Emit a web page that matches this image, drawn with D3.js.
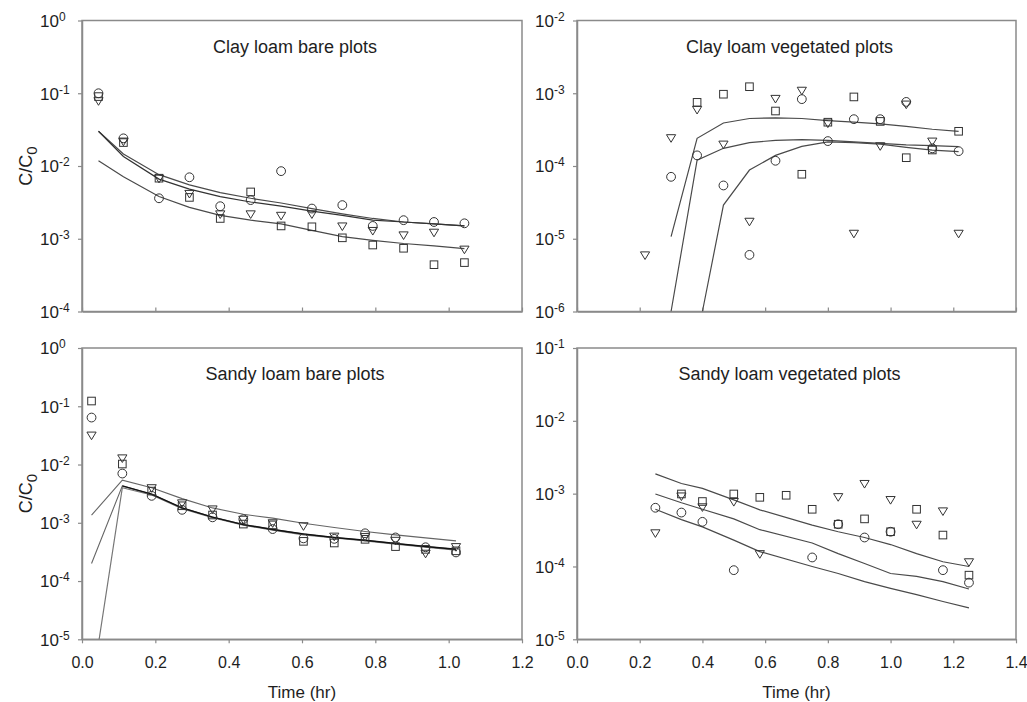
<!DOCTYPE html>
<html>
<head>
<meta charset="utf-8">
<script src="https://cdn.jsdelivr.net/npm/d3@7"></script>
<style>
  body { margin: 0; background: #fff; }
  svg { display: block; font-family: "Liberation Sans", Arial, sans-serif; }
</style>
</head>
<body>
<svg id="chart" width="1027" height="702"></svg>
<script>
// ---------------- DATA ----------------
// Clay loam bare plots
const clayBareTime = [0.045, 0.113, 0.21, 0.293, 0.377, 0.46, 0.543, 0.627, 0.71, 0.793, 0.877, 0.96, 1.043];
const clayBareCircle = [0.1, 0.024, 0.0036, 0.007, 0.0028, 0.0034, 0.0085, 0.0026, 0.0029, 0.0015, 0.0018, 0.0017, 0.00163];
const clayBareSquare = [0.09, 0.021, 0.0068, 0.0037, 0.0019, 0.0044, 0.0015, 0.00146, 0.00103, 0.00082, 0.00074, 0.00044, 0.00047];
const clayBareTriangle = [0.079, 0.022, 0.0068, 0.0042, 0.0022, 0.0022, 0.0021, 0.0022, 0.0015, 0.0013, 0.00113, 0.00123, 0.00072];
const clayBareLine1 = [0.030, 0.0146, 0.0076, 0.0055, 0.0043, 0.0036, 0.0031, 0.0026, 0.0022, 0.0019, 0.0017, 0.0016, 0.0015];
const clayBareLine2 = [0.030, 0.0135, 0.0066, 0.0048, 0.0038, 0.0032, 0.0028, 0.0024, 0.0021, 0.0018, 0.0017, 0.0016, 0.0015];
const clayBareLine3 = [0.0118, 0.0071, 0.0038, 0.0027, 0.0021, 0.0018, 0.0016, 0.0013, 0.00107, 0.00095, 0.00086, 0.0008, 0.00073];

// Clay loam vegetated plots
const clayVegTime = [0.217, 0.30, 0.383, 0.467, 0.55, 0.633, 0.717, 0.80, 0.883, 0.967, 1.05, 1.133, 1.217];
const clayVegCircle = [null, 7.1e-5, 1.4e-4, 5.4e-5, 6e-6, 1.18e-4, 8.3e-4, 2.2e-4, 4.4e-4, 4.4e-4, 7.6e-4, 1.75e-4, 1.6e-4];
const clayVegSquare = [null, null, 7.5e-4, 9.7e-4, 1.23e-3, 5.7e-4, 7.7e-5, 4.0e-4, 8.9e-4, 4.1e-4, 1.3e-4, 1.66e-4, 3.0e-4];
const clayVegTriangle = [6e-6, 2.45e-4, 6e-4, 2e-4, 1.74e-5, 8.5e-4, 1.1e-3, 3.9e-4, 1.19e-5, 1.9e-4, 7.1e-4, 2.2e-4, 1.19e-5];
const clayVegLine1Time = [0.30, 0.383, 0.467, 0.55, 0.633, 0.717, 0.80, 0.883, 0.967, 1.05, 1.133, 1.217];
const clayVegLine1 = [1.07e-5, 2.4e-4, 3.9e-4, 4.5e-4, 4.6e-4, 4.5e-4, 4.2e-4, 4.0e-4, 3.8e-4, 3.5e-4, 3.2e-4, 3.0e-4];
const clayVegLine2Time = [0.30, 0.383, 0.467, 0.55, 0.633, 0.717, 0.80, 0.883, 0.967, 1.05, 1.133, 1.217];
const clayVegLine2 = [1e-6, 1.2e-4, 1.75e-4, 2.1e-4, 2.25e-4, 2.3e-4, 2.25e-4, 2.15e-4, 2.05e-4, 1.95e-4, 1.9e-4, 1.85e-4];
const clayVegLine3Time = [0.40, 0.467, 0.55, 0.633, 0.717, 0.80, 0.883, 0.967, 1.05, 1.133, 1.217];
const clayVegLine3 = [1e-6, 2.9e-5, 8.8e-5, 1.4e-4, 1.86e-4, 2.15e-4, 2.1e-4, 2.0e-4, 1.8e-4, 1.65e-4, 1.58e-4];

// Sandy loam bare plots
const sandBareTime = [0.026, 0.11, 0.19, 0.273, 0.356, 0.44, 0.52, 0.604, 0.688, 0.772, 0.855, 0.937, 1.02];
const sandBareCircle = [0.064, 0.0070, 0.0029, 0.00167, 0.00124, 0.00115, 0.00078, 0.00054, 0.00053, 0.00066, 0.00056, 0.00038, 0.00031];
const sandBareSquare = [0.123, 0.0102, 0.0035, 0.00196, 0.00136, 0.00095, 0.00092, 0.00048, 0.00045, 0.00052, 0.00039, 0.00035, 0.00033];
const sandBareTriangle = [0.032, 0.013, 0.0040, 0.0022, 0.00173, 0.00115, 0.0010, 0.00089, 0.00059, 0.00058, 0.0005, 0.0003, 0.00039];
const sandBareLine1 = [0.00135, 0.0054, 0.0040, 0.0026, 0.0018, 0.0014, 0.0012, 0.00098, 0.00083, 0.00071, 0.00062, 0.00055, 0.00049];
const sandBareLine2 = [0.0002, 0.0043, 0.0031, 0.0018, 0.00125, 0.00093, 0.00077, 0.00064, 0.00056, 0.0005, 0.00044, 0.00039, 0.00035];
const sandBareLine3 = [1.4e-6, 0.0040, 0.0030, 0.00175, 0.00122, 0.00091, 0.00075, 0.00062, 0.00055, 0.00049, 0.00043, 0.00038, 0.00034];

// Sandy loam vegetated plots
const sandVegTime = [0.25, 0.333, 0.40, 0.50, 0.583, 0.667, 0.75, 0.833, 0.917, 1.0, 1.083, 1.167, 1.25];
const sandVegCircle = [6.4e-4, 5.5e-4, 4.1e-4, 8.9e-5, null, null, 1.33e-4, 3.8e-4, 2.5e-4, 3.0e-4, null, 8.9e-5, 6.0e-5];
const sandVegSquare = [null, 9.9e-4, 7.8e-4, 9.9e-4, 8.9e-4, 9.5e-4, 6.1e-4, 3.8e-4, 4.5e-4, 3.0e-4, 6.1e-4, 2.7e-4, 7.6e-5];
const sandVegTriangle = [2.9e-4, 9.3e-4, 6.6e-4, 7.8e-4, 1.5e-4, null, null, 9.1e-4, 1.38e-3, 8.3e-4, 3.8e-4, 5.8e-4, 1.16e-4];
const sandVegLineTime = [0.25, 0.333, 0.40, 0.50, 0.583, 0.75, 0.833, 0.917, 1.0, 1.083, 1.167, 1.25];
const sandVegLine1 = [1.87e-3, 1.38e-3, 1.18e-3, 8.2e-4, 6.0e-4, 3.7e-4, 3.0e-4, 2.5e-4, 2.0e-4, 1.5e-4, 1.16e-4, 1.0e-4];
const sandVegLine2 = [9.9e-4, 7.5e-4, 6.1e-4, 4.5e-4, 3.2e-4, 2.1e-4, 1.5e-4, 1.1e-4, 8.0e-5, 7.3e-5, 6.2e-5, 4.9e-5];
const sandVegLine3 = [6.1e-4, 4.4e-4, 3.5e-4, 2.3e-4, 1.6e-4, 1.0e-4, 8.0e-5, 6.2e-5, 5.0e-5, 4.1e-5, 3.3e-5, 2.7e-5];

// Axis ticks
const xTicksLeft = [0, 0.2, 0.4, 0.6, 0.8, 1.0, 1.2];
const xTicksRight = [0, 0.2, 0.4, 0.6, 0.8, 1.0, 1.2, 1.4];
const titles = ["Clay loam bare plots", "Clay loam vegetated plots", "Sandy loam bare plots", "Sandy loam vegetated plots"];
const xTitle = "Time (hr)";

// ---------------- LAYOUT ----------------
const svg = d3.select("#chart");
svg.append("rect").attr("width", 1027).attr("height", 702).attr("fill", "#fff");

const AXIS_COLOR = "#8a8a8a";
const TEXT_COLOR = "#1e1e1e";
const MARK_COLOR = "#333";
const LINE_COLOR = "#4a4a4a";

const panels = [
  { id: "tl", title: titles[0], x0: 82, x1: 522, y0: 20.5, y1: 311.5, xmax: 1.2, ymin: -4, ymax: 0, xTicks: xTicksLeft, xLabels: false, yTitle: true,
    time: clayBareTime, circles: clayBareCircle, squares: clayBareSquare, triangles: clayBareTriangle,
    lines: [ {t: clayBareTime, v: clayBareLine1, c: LINE_COLOR, w: 1.2},
             {t: clayBareTime, v: clayBareLine2, c: "#333", w: 1.2},
             {t: clayBareTime, v: clayBareLine3, c: LINE_COLOR, w: 1.2} ], titleY: 53 },
  { id: "tr", title: titles[1], x0: 577, x1: 1016, y0: 20.5, y1: 311.5, xmax: 1.4, ymin: -6, ymax: -2, xTicks: xTicksRight, xLabels: false, yTitle: false,
    time: clayVegTime, circles: clayVegCircle, squares: clayVegSquare, triangles: clayVegTriangle,
    lines: [ {t: clayVegLine1Time, v: clayVegLine1, c: LINE_COLOR, w: 1.2},
             {t: clayVegLine2Time, v: clayVegLine2, c: LINE_COLOR, w: 1.2},
             {t: clayVegLine3Time, v: clayVegLine3, c: LINE_COLOR, w: 1.2} ], titleY: 53 },
  { id: "bl", title: titles[2], x0: 82, x1: 522, y0: 348, y1: 639.3, xmax: 1.2, ymin: -5, ymax: 0, xTicks: xTicksLeft, xLabels: true, yTitle: true,
    time: sandBareTime, circles: sandBareCircle, squares: sandBareSquare, triangles: sandBareTriangle,
    lines: [ {t: sandBareTime, v: sandBareLine1, c: "#666", w: 1.1},
             {t: sandBareTime, v: sandBareLine3, c: "#777", w: 1.2},
             {t: sandBareTime, v: sandBareLine2, c: "#666", w: 1.1, darkFrom: 1} ], titleY: 380 },
  { id: "br", title: titles[3], x0: 577, x1: 1016, y0: 348, y1: 639.3, xmax: 1.4, ymin: -5, ymax: -1, xTicks: xTicksRight, xLabels: true, yTitle: false,
    time: sandVegTime, circles: sandVegCircle, squares: sandVegSquare, triangles: sandVegTriangle,
    lines: [ {t: sandVegLineTime, v: sandVegLine1, c: LINE_COLOR, w: 1.2},
             {t: sandVegLineTime, v: sandVegLine2, c: LINE_COLOR, w: 1.2},
             {t: sandVegLineTime, v: sandVegLine3, c: LINE_COLOR, w: 1.2} ], titleY: 380 }
];

panels.forEach(p => {
  const x = d3.scaleLinear().domain([0, p.xmax]).range([p.x0, p.x1]);
  const y = d3.scaleLog().domain([Math.pow(10, p.ymin), Math.pow(10, p.ymax)]).range([p.y1, p.y0]);
  const g = svg.append("g");

  const clipId = "clip-" + p.id;
  svg.append("clipPath").attr("id", clipId).append("rect")
    .attr("x", p.x0).attr("y", p.y0).attr("width", p.x1 - p.x0).attr("height", p.y1 - p.y0);

  // frame
  g.append("rect").attr("x", p.x0).attr("y", p.y0).attr("width", p.x1 - p.x0).attr("height", p.y1 - p.y0)
    .attr("fill", "none").attr("stroke", AXIS_COLOR).attr("stroke-width", 1.5);

  // y axis
  const yVals = d3.range(p.ymin, p.ymax + 1).map(e => Math.pow(10, e));
  const yAxis = g.append("g").attr("transform", `translate(${p.x0},0)`)
    .call(d3.axisLeft(y).tickValues(yVals).tickSizeInner(4).tickSizeOuter(0).tickFormat(""));
  yAxis.select(".domain").attr("stroke", AXIS_COLOR).attr("stroke-width", 1.5);
  yAxis.selectAll(".tick line").attr("stroke", AXIS_COLOR).attr("stroke-width", 1.2);
  yAxis.selectAll(".tick text").remove();
  yAxis.selectAll(".tick").each(function(d) {
    const e = Math.round(Math.log10(d));
    const t = d3.select(this).append("text")
      .attr("x", -42).attr("y", 0).attr("dy", "0.35em")
      .attr("text-anchor", "start").attr("fill", TEXT_COLOR)
      .style("font-size", "17px");
    t.append("tspan").text("10");
    t.append("tspan").attr("dy", "-0.5em").style("font-size", "12px").text(String(e));
  });

  // x axis
  const xAxis = g.append("g").attr("transform", `translate(0,${p.y1})`)
    .call(d3.axisBottom(x).tickValues(p.xTicks).tickSizeOuter(0)
      .tickSizeInner(p.xLabels ? 4 : -4).tickPadding(p.xLabels ? 13 : 3)
      .tickFormat(p.xLabels ? d3.format(".1f") : ""));
  xAxis.select(".domain").attr("stroke", AXIS_COLOR).attr("stroke-width", 1.5);
  xAxis.selectAll(".tick line").attr("stroke", AXIS_COLOR).attr("stroke-width", 1.2);
  xAxis.selectAll(".tick text").attr("fill", TEXT_COLOR).style("font-size", "16px")
    .style("font-family", "'Liberation Sans', Arial, sans-serif");

  // lines
  const lineGen = d3.line().x(d => x(d[0])).y(d => y(d[1]));
  const lg = g.append("g").attr("clip-path", `url(#${clipId})`);
  p.lines.forEach(L => {
    const pts = L.t.map((t, i) => [t, L.v[i]]);
    lg.append("path").attr("d", lineGen(pts)).attr("fill", "none")
      .attr("stroke", L.c).attr("stroke-width", L.w);
    if (L.darkFrom != null) {
      lg.append("path").attr("d", lineGen(pts.slice(L.darkFrom))).attr("fill", "none")
        .attr("stroke", "#111").attr("stroke-width", 1.5);
    }
  });

  // markers
  const mg = g.append("g").attr("fill", "none").attr("stroke", MARK_COLOR).attr("stroke-width", 1);
  p.time.forEach((t, i) => {
    const vs = p.squares[i];
    if (vs != null) {
      mg.append("rect").attr("x", x(t) - 3.8).attr("y", y(vs) - 3.8).attr("width", 7.6).attr("height", 7.6);
    }
    const vc = p.circles[i];
    if (vc != null) {
      mg.append("circle").attr("cx", x(t)).attr("cy", y(vc)).attr("r", 4.4);
    }
    const vt = p.triangles[i];
    if (vt != null) {
      const cx = x(t), cy = y(vt);
      mg.append("path").attr("d", `M${cx - 4.6},${cy - 3} L${cx + 4.6},${cy - 3} L${cx},${cy + 4.6} Z`);
    }
  });

  // title
  g.append("text").attr("x", (p.x0 + p.x1) / 2 - 7).attr("y", p.titleY)
    .attr("text-anchor", "middle").attr("fill", TEXT_COLOR).style("font-size", "18px").text(p.title);

  // y title
  if (p.yTitle) {
    const cy = (p.y0 + p.y1) / 2;
    const yt = g.append("text").attr("transform", `translate(32,${cy}) rotate(-90)`)
      .attr("text-anchor", "middle").attr("fill", TEXT_COLOR).style("font-size", "18px");
    yt.append("tspan").text("C/C");
    yt.append("tspan").attr("dy", "0.3em").style("font-size", "15px").text("0");
  }

  // x title
  if (p.xLabels) {
    g.append("text").attr("x", (p.x0 + p.x1) / 2).attr("y", 698)
      .attr("text-anchor", "middle").attr("fill", TEXT_COLOR).style("font-size", "17px").text(xTitle);
  }
});
</script>
</body>
</html>
